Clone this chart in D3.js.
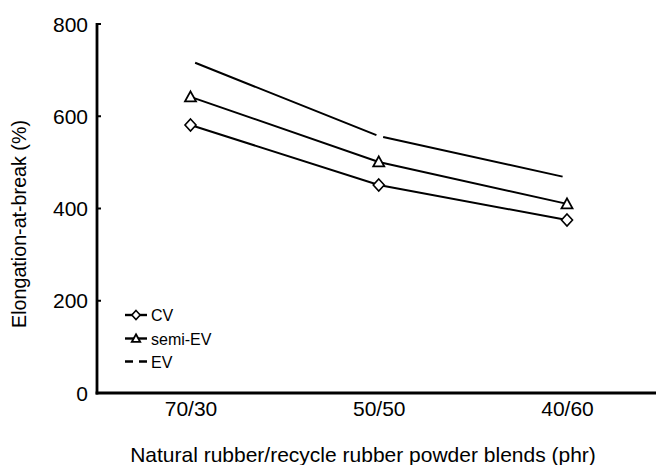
<!DOCTYPE html>
<html>
<head>
<meta charset="utf-8">
<script src="https://cdn.jsdelivr.net/npm/d3@7"></script>
<style>
  html, body { margin: 0; padding: 0; background: #fff; }
  svg { display: block; }
  svg text { font-family: "Liberation Sans", Arial, sans-serif; fill: #000; }
</style>
</head>
<body>
<svg id="chart" width="656" height="465"></svg>
<script>
const categories = ["70/30", "50/50", "40/60"];
const cvValues = [581, 451, 375];
const semiEvValues = [642, 501, 410];
const evValues = [720, 557, 467];
const yTicks = [0, 200, 400, 600, 800];
const seriesNames = ["CV", "semi-EV", "EV"];

const svg = d3.select("#chart");
const W = 656, H = 465;
const axisX = 97;

const x = d3.scalePoint().domain(categories).range([190.5, 567]);
const y = d3.scaleLinear().domain([0, 800]).range([393, 24]);

// Y axis
const yAxis = d3.axisLeft(y).tickValues(yTicks).tickSize(0).tickPadding(9);
const yg = svg.append("g").attr("transform", `translate(${axisX},0)`).call(yAxis);
yg.attr("font-family", null).attr("font-size", null);
yg.select(".domain").remove();
yg.selectAll("text").attr("font-size", 21).attr("dy", "0.34em");
// inward tick marks
svg.append("g").selectAll("line").data(yTicks).join("line")
  .attr("x1", axisX).attr("x2", axisX + 4)
  .attr("y1", d => y(d)).attr("y2", d => y(d))
  .attr("stroke", "#000").attr("stroke-width", 2);
svg.append("line").attr("x1", axisX).attr("x2", axisX)
  .attr("y1", y(800) - 1).attr("y2", y(0) + 1.5)
  .attr("stroke", "#000").attr("stroke-width", 2.8);

// X axis
const xAxis = d3.axisBottom(x).tickSize(0).tickPadding(8.5);
const xg = svg.append("g").attr("transform", `translate(0,${y(0)})`).call(xAxis);
xg.attr("font-family", null).attr("font-size", null);
xg.select(".domain").remove();
xg.selectAll("text").attr("font-size", 21);
svg.append("line").attr("x1", axisX - 1.4).attr("x2", W)
  .attr("y1", y(0)).attr("y2", y(0))
  .attr("stroke", "#000").attr("stroke-width", 2.8);

// Axis titles
svg.append("text").attr("x", 363).attr("y", 461.5)
  .attr("text-anchor", "middle").attr("font-size", 21)
  .text("Natural rubber/recycle rubber powder blends (phr)");
svg.append("text").attr("transform", "translate(25.5,224) rotate(-90)")
  .attr("text-anchor", "middle").attr("font-size", 19.7)
  .text("Elongation-at-break (%)");

const line = d3.line().x((d, i) => x(categories[i])).y(d => y(d));

// EV line (long dashes, no markers)
const evPath = svg.append("path").datum(evValues)
  .attr("d", line).attr("fill", "none").attr("stroke", "#000").attr("stroke-width", 2);
{
  const p0 = [x(categories[0]), y(evValues[0])];
  const p1 = [x(categories[1]), y(evValues[1])];
  const L1 = Math.hypot(p1[0] - p0[0], p1[1] - p0[1]);
  const L = evPath.node().getTotalLength();
  evPath.attr("stroke-dasharray", `0,5,${L1 - 5 - 2.5},7,${L - L1 - 4.5 - 4.5},20`);
}

function drawDiamond(sel, cx, cy, r) {
  sel.append("path").attr("d", `M0,${-r}L${r * 0.92},0L0,${r}L${-r * 0.92},0Z`)
    .attr("transform", `translate(${cx},${cy})`)
    .attr("fill", "#fff").attr("stroke", "#000").attr("stroke-width", 1.6);
}
function drawTriangle(sel, cx, cy, r) {
  sel.append("path").attr("d", `M0,${-r}L${r},${r * 0.82}L${-r},${r * 0.82}Z`)
    .attr("transform", `translate(${cx},${cy})`)
    .attr("fill", "#fff").attr("stroke", "#000").attr("stroke-width", 1.8);
}

// CV line + diamonds
svg.append("path").datum(cvValues).attr("d", line)
  .attr("fill", "none").attr("stroke", "#000").attr("stroke-width", 2);
cvValues.forEach((v, i) => drawDiamond(svg, x(categories[i]), y(v), 6));

// semi-EV line + triangles
svg.append("path").datum(semiEvValues).attr("d", line)
  .attr("fill", "none").attr("stroke", "#000").attr("stroke-width", 2);
semiEvValues.forEach((v, i) => drawTriangle(svg, x(categories[i]), y(v), 5.5));

// Legend
const legendY = [315, 338.5, 361.5];
const lg = svg.append("g");
seriesNames.forEach((name, i) => {
  const ly = legendY[i];
  const ln = lg.append("line").attr("x1", 125).attr("x2", 147).attr("y1", ly).attr("y2", ly)
    .attr("stroke", "#000").attr("stroke-width", 2.4);
  if (i === 2) ln.attr("stroke-dasharray", "8,6");
  if (i === 0) drawDiamond(lg, 136, ly, 4.5);
  if (i === 1) drawTriangle(lg, 136, ly, 4.2);
  lg.append("text").attr("x", 151).attr("y", ly + 6).attr("font-size", 16).text(name);
});
</script>
</body>
</html>
